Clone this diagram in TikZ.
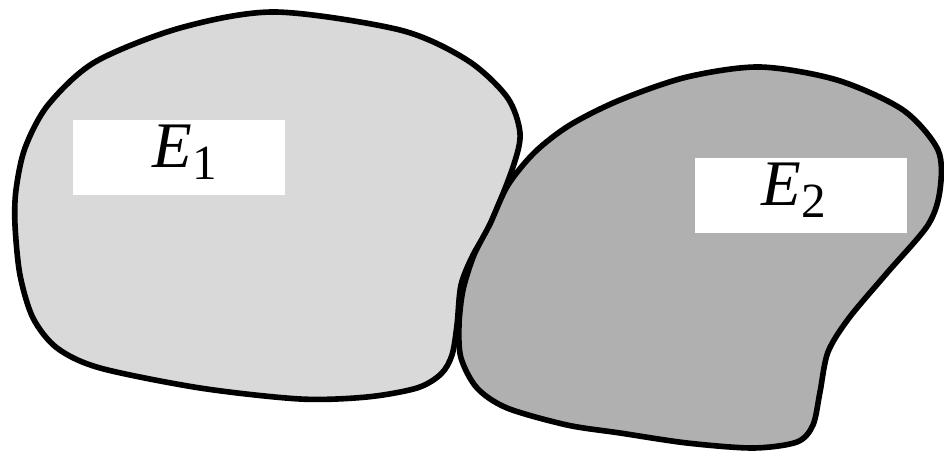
\documentclass[tikz,border=0pt]{standalone}
\usepackage{fontspec}
\setmainfont{Liberation Serif}
\usepackage{tikz}
\definecolor{lightset}{gray}{0.85}
\definecolor{darkset}{gray}{0.69}
\newcommand{\setlbl}[1]{{\itshape E}\raisebox{-0.18em}{\fontsize{28}{28}\selectfont #1}}

\begin{document}
\begin{tikzpicture}[x=0.02cm,y=-0.02cm,
    blob/.style={draw=black,line width=3.2pt,line join=round},
    lblbox/.style={fill=white,inner sep=0pt,minimum width=4.24cm,minimum height=1.5cm,
        text height=27.2pt,text depth=15.3pt,font=\fontsize{37}{40}\selectfont}]
    \useasboundingbox (0,0) rectangle (944,455);
    % the two sets
    \draw[blob,fill=lightset] plot[smooth cycle] coordinates {(275,12) (400,30) (467,60) (507,97) (520,133) (513,167) (490,225) (473,255) (461,285) (457,325) (452,355) (441,374) (417,388) (367,397) (300,399) (200,388) (100,368) (57,348) (33,318) (20,275) (15,225) (16,190) (25,148) (48,105) (95,62) (180,28)};
    \draw[blob,fill=darkset] plot[smooth cycle] coordinates {(760,67) (837,80) (903,110) (938,150) (940,190) (928,225) (887,273) (849,318) (828,352) (820,392) (813,425) (797,442) (753,448) (687,443) (620,433) (567,425) (507,408) (477,388) (461,358) (459,325) (463,290) (474,255) (490,224) (508,185) (535,152) (570,125) (620,100) (687,77)};
    % labels
    \node[lblbox] (e1) at (179,157.5) {\hspace*{6.8pt}\setlbl{1}};
    \node[lblbox] (e2) at (801,195.5) {\setlbl{2}\hspace*{8.5pt}};
\end{tikzpicture}
\end{document}
